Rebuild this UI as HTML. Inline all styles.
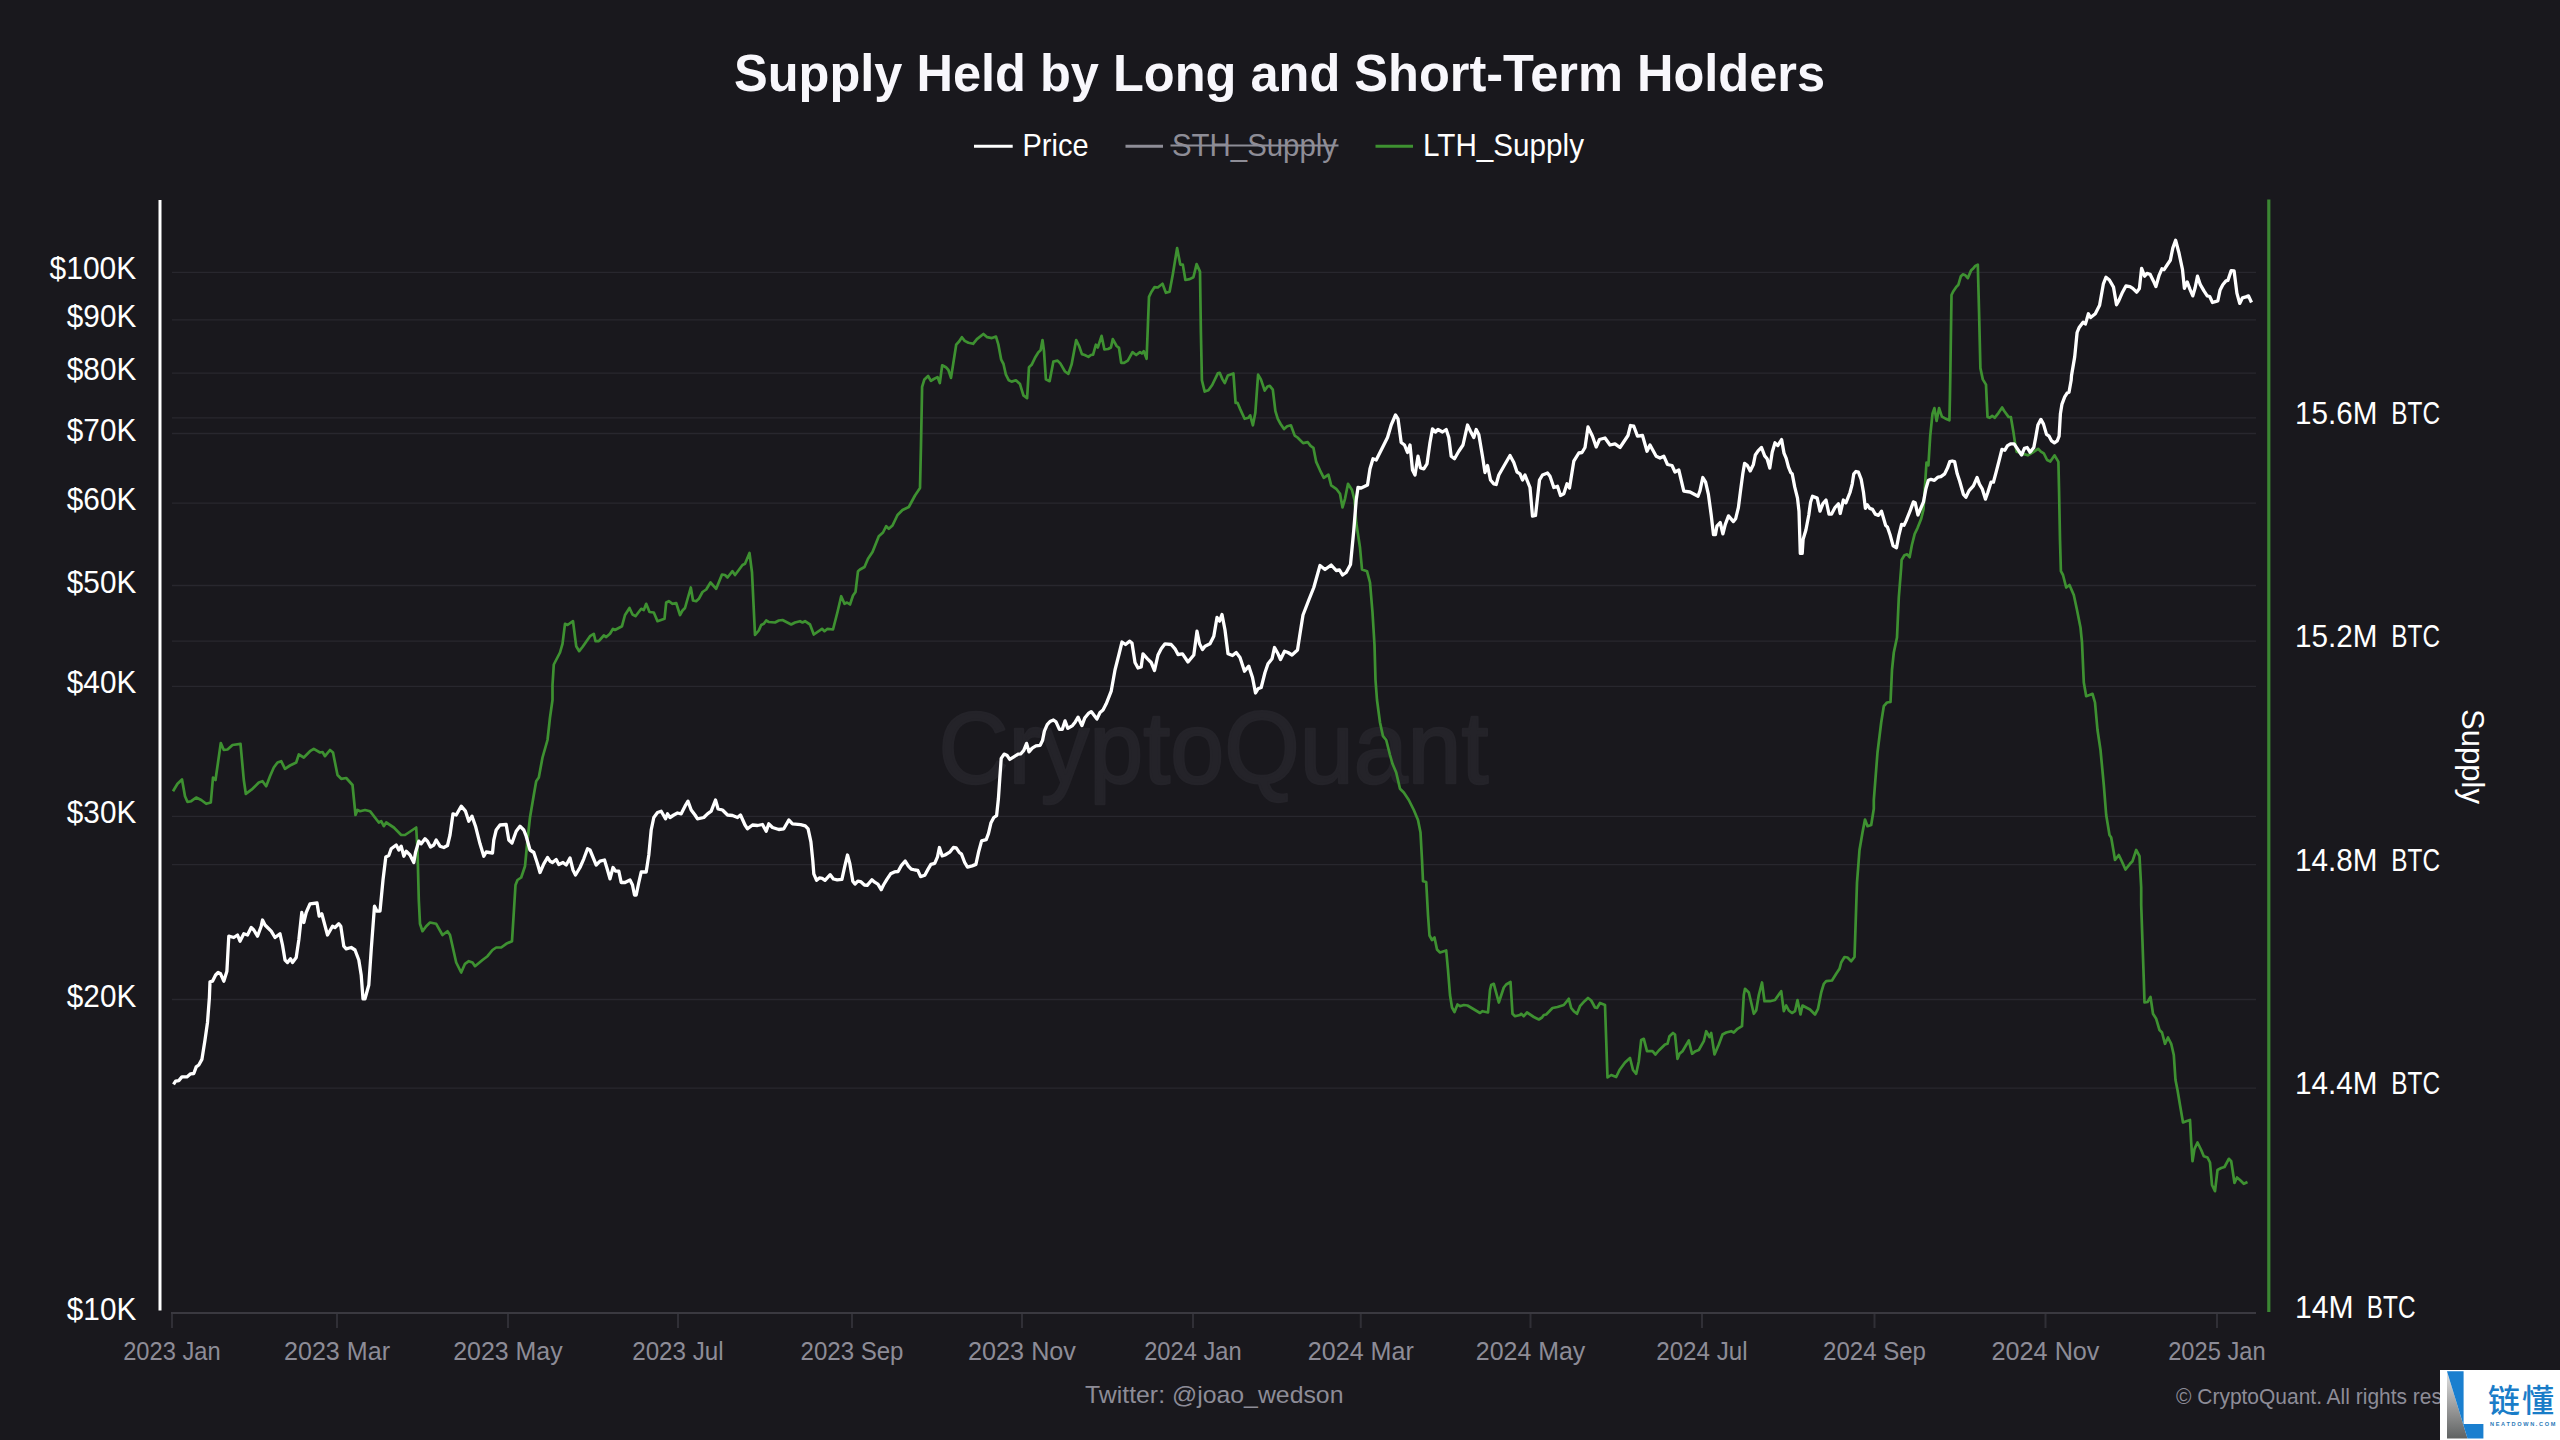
<!DOCTYPE html>
<html lang="en"><head><meta charset="utf-8"><title>Supply Held by Long and Short-Term Holders</title>
<style>html,body{margin:0;padding:0;background:#19181d;}body{width:2560px;height:1440px;overflow:hidden;}svg{display:block;}text{font-family:"Liberation Sans","Noto Sans CJK SC",sans-serif;}</style>
</head><body>
<svg width="2560" height="1440" viewBox="0 0 2560 1440">
<rect width="2560" height="1440" fill="#19181d"/>
<text x="1213.5" y="782.5" font-size="102" font-weight="normal" fill="#242329" stroke="#242329" stroke-width="2.5" stroke-linejoin="round" text-anchor="middle" textLength="550" lengthAdjust="spacingAndGlyphs">CryptoQuant</text>
<g stroke="#28272e" stroke-width="1.3">
<line x1="172" x2="2256" y1="272.3" y2="272.3"/>
<line x1="172" x2="2256" y1="319.9" y2="319.9"/>
<line x1="172" x2="2256" y1="373.1" y2="373.1"/>
<line x1="172" x2="2256" y1="433.5" y2="433.5"/>
<line x1="172" x2="2256" y1="503.1" y2="503.1"/>
<line x1="172" x2="2256" y1="585.5" y2="585.5"/>
<line x1="172" x2="2256" y1="686.3" y2="686.3"/>
<line x1="172" x2="2256" y1="816.3" y2="816.3"/>
<line x1="172" x2="2256" y1="999.5" y2="999.5"/>
<line x1="172" x2="2256" y1="417.8" y2="417.8"/>
<line x1="172" x2="2256" y1="641.1" y2="641.1"/>
<line x1="172" x2="2256" y1="864.6" y2="864.6"/>
<line x1="172" x2="2256" y1="1088.2" y2="1088.2"/>
</g>
<g stroke="#302f36" stroke-width="2">
<line x1="172" x2="172" y1="1313" y2="1328"/>
<line x1="337" x2="337" y1="1313" y2="1328"/>
<line x1="508" x2="508" y1="1313" y2="1328"/>
<line x1="678" x2="678" y1="1313" y2="1328"/>
<line x1="852" x2="852" y1="1313" y2="1328"/>
<line x1="1022" x2="1022" y1="1313" y2="1328"/>
<line x1="1193" x2="1193" y1="1313" y2="1328"/>
<line x1="1360.75" x2="1360.75" y1="1313" y2="1328"/>
<line x1="1530.5" x2="1530.5" y1="1313" y2="1328"/>
<line x1="1702" x2="1702" y1="1313" y2="1328"/>
<line x1="1874.5" x2="1874.5" y1="1313" y2="1328"/>
<line x1="2045.5" x2="2045.5" y1="1313" y2="1328"/>
<line x1="2217" x2="2217" y1="1313" y2="1328"/>
</g>
<line x1="171" x2="2256" y1="1313" y2="1313" stroke="#3a3940" stroke-width="2"/>
<line x1="160" x2="160" y1="200" y2="1310.5" stroke="#ffffff" stroke-width="3"/>
<line x1="2268.8" x2="2268.8" y1="199.5" y2="1312" stroke="#3b8633" stroke-width="3.2"/>
<path d="M173.0,791.2 L177.5,783.8 L182.0,779.5 L185.0,796.2 L187.5,802.0 L191.2,801.2 L196.2,797.5 L201.2,800.0 L206.2,803.8 L210.8,802.5 L213.0,777.5 L215.5,780.0 L220.8,743.0 L223.8,750.0 L227.5,749.5 L232.5,745.0 L240.5,743.8 L243.8,780.0 L245.8,793.8 L252.5,788.8 L258.8,782.5 L262.5,781.2 L266.2,786.2 L270.0,776.2 L273.8,767.5 L277.5,762.5 L281.2,761.2 L285.0,768.8 L290.0,765.5 L296.2,762.5 L298.8,754.5 L303.8,757.5 L310.0,751.2 L313.8,748.8 L320.0,752.5 L322.5,752.0 L325.0,756.2 L330.0,750.0 L333.0,752.5 L337.5,775.0 L341.2,778.8 L346.2,778.0 L352.5,785.0 L355.5,815.0 L357.5,810.0 L360.0,811.2 L365.0,810.0 L370.0,811.2 L378.8,822.5 L381.2,821.2 L383.8,826.2 L386.2,822.5 L393.8,827.5 L401.2,835.0 L405.0,835.0 L416.2,827.5 L417.5,850.0 L418.8,900.0 L420.0,923.8 L422.5,931.2 L426.2,926.2 L430.0,922.5 L436.2,923.8 L442.5,935.0 L447.5,931.2 L450.0,935.0 L456.2,962.5 L461.2,972.5 L465.0,963.8 L468.8,961.2 L472.5,962.5 L475.0,966.2 L482.5,960.0 L487.5,956.2 L492.5,950.0 L496.2,947.5 L501.2,947.5 L506.2,943.8 L512.0,941.2 L513.8,912.5 L515.5,885.0 L517.5,880.0 L521.2,877.5 L525.0,866.2 L527.5,840.0 L530.0,817.5 L533.8,795.0 L536.2,781.2 L538.8,777.5 L542.5,757.5 L547.5,740.0 L550.0,717.5 L552.5,700.0 L552.5,685.0 L553.8,664.5 L560.0,652.5 L562.5,643.8 L565.0,623.8 L567.5,625.0 L573.0,621.2 L576.2,646.2 L579.2,651.2 L582.5,647.0 L590.0,636.2 L593.8,633.8 L595.5,641.2 L598.8,641.2 L603.8,635.5 L606.2,637.0 L610.0,633.8 L613.0,628.8 L615.0,630.0 L622.0,626.2 L625.0,615.0 L629.5,608.0 L632.5,614.5 L635.5,616.2 L641.2,608.8 L643.8,610.0 L646.2,603.8 L649.5,612.0 L653.8,612.5 L657.5,621.2 L664.5,618.8 L666.2,602.5 L668.8,601.2 L672.5,603.8 L676.2,603.0 L680.0,615.0 L682.5,610.5 L685.0,608.0 L690.8,587.5 L693.0,600.5 L696.2,601.2 L698.8,598.8 L702.5,592.0 L706.2,589.5 L710.5,582.5 L716.2,588.8 L722.0,574.5 L725.0,575.0 L727.5,577.5 L732.5,571.2 L735.0,575.0 L738.8,570.0 L742.5,565.0 L745.0,563.8 L749.5,553.0 L752.0,572.5 L755.0,635.0 L758.8,630.5 L761.2,625.0 L763.8,623.8 L766.2,620.5 L768.8,622.0 L775.0,622.5 L778.8,620.5 L782.5,620.0 L791.2,624.5 L795.0,622.5 L800.0,621.2 L802.5,622.5 L805.0,621.2 L810.0,624.5 L813.8,634.5 L822.0,628.8 L824.5,631.2 L827.5,628.8 L833.0,629.5 L837.5,612.0 L841.2,596.2 L844.5,603.8 L847.0,602.5 L850.0,604.5 L853.0,595.5 L855.5,592.0 L858.0,571.2 L860.0,569.5 L864.5,567.0 L868.0,558.8 L872.5,552.0 L878.8,536.2 L883.0,532.5 L886.2,526.2 L888.8,528.8 L892.5,525.5 L897.5,515.0 L902.5,510.0 L908.8,507.0 L915.0,495.5 L920.0,488.0 L921.0,445.0 L922.1,386.9 L924.4,379.4 L928.1,376.0 L930.9,380.9 L933.8,379.0 L937.5,377.1 L939.8,383.1 L942.2,365.3 L945.9,367.2 L948.4,370.0 L951.0,377.9 L956.2,344.7 L959.1,341.5 L961.9,337.2 L964.7,340.9 L968.4,342.8 L973.1,343.8 L976.9,339.1 L983.4,334.0 L987.2,337.2 L991.9,338.1 L996.0,336.6 L998.4,344.7 L1001.2,359.7 L1003.5,364.0 L1005.9,374.7 L1008.8,380.3 L1011.6,381.6 L1015.9,380.3 L1020.0,384.1 L1023.4,395.3 L1027.1,398.1 L1029.0,367.2 L1031.6,364.8 L1035.0,357.8 L1038.4,352.2 L1040.6,350.3 L1042.5,340.0 L1044.0,351.2 L1045.9,379.4 L1049.6,381.2 L1053.4,361.6 L1057.5,360.6 L1060.3,363.4 L1065.0,371.5 L1068.4,373.8 L1071.6,364.4 L1076.2,340.0 L1079.1,346.0 L1081.9,354.1 L1084.7,355.0 L1088.4,356.9 L1090.9,355.0 L1093.1,354.6 L1095.9,344.7 L1097.8,347.5 L1101.6,335.9 L1104.4,349.4 L1108.1,349.0 L1110.9,347.5 L1112.8,339.1 L1116.6,346.0 L1119.0,347.9 L1121.2,362.9 L1124.1,362.9 L1127.8,360.6 L1132.5,352.2 L1136.2,355.0 L1140.0,352.2 L1141.9,353.5 L1143.8,351.2 L1146.6,358.8 L1147.9,325.0 L1149.0,296.9 L1151.2,292.2 L1154.6,287.1 L1157.8,287.5 L1162.5,283.8 L1165.9,292.8 L1169.6,291.6 L1172.8,274.4 L1177.1,248.1 L1180.3,264.6 L1182.8,264.6 L1185.4,280.0 L1189.7,279.1 L1193.4,277.2 L1196.6,264.1 L1200.0,271.6 L1200.9,332.5 L1201.9,380.3 L1204.7,391.6 L1208.4,390.2 L1212.2,385.0 L1217.8,373.4 L1219.7,372.8 L1222.5,379.4 L1224.8,383.1 L1227.8,375.6 L1233.4,373.4 L1235.6,402.8 L1237.5,402.8 L1240.3,409.4 L1244.6,418.8 L1248.4,417.8 L1250.2,415.4 L1252.9,425.3 L1255.3,413.1 L1258.1,374.7 L1260.9,379.4 L1264.7,390.6 L1267.5,386.5 L1269.8,385.9 L1272.8,389.7 L1275.4,411.2 L1277.8,418.8 L1280.6,424.0 L1284.0,429.1 L1287.2,426.2 L1290.9,425.3 L1294.7,435.6 L1297.5,437.5 L1303.1,443.1 L1307.8,442.2 L1310.6,445.9 L1313.4,447.8 L1316.2,461.9 L1320.0,470.3 L1323.8,477.8 L1328.4,474.6 L1331.2,485.3 L1336.2,488.8 L1340.0,493.8 L1342.5,507.5 L1345.0,498.8 L1348.0,483.8 L1352.0,490.0 L1354.5,500.0 L1356.2,522.5 L1360.0,547.5 L1362.0,569.5 L1367.0,571.2 L1370.0,582.5 L1372.5,612.5 L1374.5,645.0 L1375.5,680.0 L1377.0,700.0 L1380.0,722.5 L1383.0,736.2 L1386.2,740.0 L1390.0,755.0 L1392.5,763.8 L1396.2,772.5 L1400.0,788.8 L1403.8,792.5 L1408.8,800.0 L1413.8,810.0 L1418.0,820.0 L1420.5,832.5 L1422.0,860.0 L1423.0,881.2 L1426.2,882.0 L1428.0,915.0 L1429.5,935.5 L1432.0,940.0 L1434.5,937.5 L1437.0,949.5 L1440.0,952.5 L1446.2,950.5 L1448.0,970.0 L1450.0,995.0 L1452.0,1007.5 L1454.5,1012.0 L1457.5,1004.5 L1460.0,1006.2 L1463.8,1005.0 L1467.5,1005.5 L1475.0,1010.0 L1480.0,1013.0 L1482.5,1011.2 L1488.0,1012.5 L1490.0,990.0 L1491.2,985.0 L1493.8,983.8 L1498.8,1002.5 L1503.8,987.5 L1506.2,984.5 L1510.5,982.0 L1512.5,1013.8 L1515.0,1016.2 L1520.0,1015.0 L1521.2,1013.8 L1523.8,1016.2 L1527.0,1012.5 L1533.8,1017.0 L1538.8,1019.5 L1542.0,1017.5 L1543.8,1015.0 L1546.2,1014.5 L1552.5,1008.0 L1557.5,1007.0 L1563.8,1005.0 L1568.8,998.8 L1571.2,1008.0 L1573.8,1011.2 L1577.0,1013.8 L1580.0,1006.2 L1584.5,1001.2 L1588.0,998.0 L1591.2,1000.5 L1595.0,1007.5 L1597.0,1008.0 L1600.0,1003.0 L1605.0,1005.0 L1606.2,1040.0 L1607.5,1077.5 L1611.2,1075.0 L1616.2,1077.0 L1619.5,1070.0 L1625.0,1062.5 L1630.0,1058.0 L1633.0,1070.0 L1636.2,1073.8 L1638.8,1061.2 L1641.2,1040.0 L1643.8,1038.8 L1647.0,1051.2 L1652.5,1051.2 L1655.5,1054.5 L1658.8,1050.5 L1665.0,1044.5 L1667.5,1043.8 L1669.5,1036.2 L1673.0,1033.0 L1675.0,1034.5 L1677.5,1058.8 L1679.5,1053.8 L1682.5,1051.2 L1688.8,1040.5 L1692.0,1053.8 L1695.5,1051.2 L1698.8,1050.0 L1703.8,1041.2 L1706.2,1031.2 L1709.5,1037.0 L1711.2,1033.0 L1714.5,1054.5 L1718.8,1044.5 L1722.5,1034.5 L1726.2,1032.5 L1731.2,1031.2 L1733.8,1032.5 L1737.5,1028.8 L1742.0,1026.2 L1743.8,995.0 L1745.0,988.8 L1748.8,992.5 L1753.8,1013.8 L1756.2,1010.5 L1758.8,995.0 L1762.0,982.5 L1764.5,1001.2 L1770.0,1001.2 L1775.0,1000.0 L1781.2,991.2 L1783.8,1011.2 L1786.2,1005.5 L1788.8,1010.5 L1792.0,1013.0 L1795.0,1011.2 L1797.5,1000.0 L1800.5,1014.5 L1802.5,1005.5 L1806.2,1007.5 L1810.0,1009.5 L1815.0,1014.5 L1818.0,1008.8 L1821.2,992.5 L1823.8,983.8 L1826.2,981.2 L1832.0,980.5 L1836.2,973.8 L1839.5,968.8 L1841.2,962.5 L1844.5,957.0 L1847.5,957.5 L1851.2,961.2 L1854.5,957.0 L1855.5,927.5 L1857.0,882.5 L1859.5,850.0 L1862.5,832.5 L1865.0,819.5 L1867.5,826.2 L1871.2,825.0 L1873.8,808.8 L1873.8,800.0 L1877.5,752.5 L1881.2,722.5 L1883.8,706.2 L1887.0,702.5 L1890.5,702.0 L1892.0,670.0 L1893.8,652.5 L1897.0,637.5 L1898.8,597.5 L1901.2,567.5 L1901.6,560.0 L1904.4,555.3 L1907.2,554.4 L1909.6,557.2 L1911.9,545.0 L1914.7,533.8 L1917.5,528.1 L1921.2,518.8 L1923.5,509.4 L1925.0,485.0 L1926.5,462.5 L1928.4,465.3 L1930.2,436.2 L1932.5,413.8 L1934.4,408.1 L1936.6,420.9 L1939.1,408.1 L1941.9,416.6 L1945.2,418.4 L1949.4,420.3 L1949.9,398.8 L1950.4,370.0 L1951.5,295.0 L1953.4,291.2 L1956.6,286.6 L1958.4,284.7 L1960.9,276.2 L1962.8,274.4 L1965.4,275.3 L1967.8,278.1 L1971.0,270.6 L1972.9,268.8 L1975.3,265.9 L1977.8,264.6 L1979.1,313.8 L1980.4,368.1 L1982.8,379.4 L1986.0,384.6 L1987.5,416.9 L1989.8,417.8 L1992.2,415.9 L1994.6,417.8 L1998.4,413.1 L2002.1,407.5 L2004.4,411.2 L2008.5,416.9 L2010.9,417.2 L2013.4,431.9 L2015.2,444.1 L2016.6,451.6 L2019.4,452.5 L2022.2,454.0 L2025.0,454.4 L2027.8,455.3 L2032.5,452.5 L2038.1,448.8 L2040.9,451.6 L2043.8,453.4 L2047.1,460.0 L2050.3,461.5 L2054.6,455.3 L2058.4,461.9 L2059.1,492.5 L2060.0,539.4 L2060.9,571.2 L2063.0,575.0 L2066.2,587.5 L2069.5,585.0 L2073.8,595.0 L2077.0,610.0 L2080.5,627.5 L2082.0,642.5 L2083.8,682.5 L2086.2,696.2 L2089.5,695.0 L2092.5,693.8 L2095.0,702.5 L2097.5,730.0 L2100.5,750.0 L2103.8,785.0 L2106.2,815.0 L2109.5,835.0 L2111.2,837.5 L2113.8,852.5 L2115.0,860.0 L2118.8,855.0 L2121.2,860.0 L2125.5,869.5 L2130.0,863.8 L2132.5,861.2 L2136.2,850.0 L2139.5,856.2 L2141.2,887.5 L2141.2,905.0 L2142.5,942.5 L2143.8,980.0 L2144.5,1002.5 L2147.5,1002.0 L2150.5,997.0 L2153.0,1013.8 L2156.2,1018.8 L2159.5,1030.0 L2162.0,1032.5 L2165.0,1043.8 L2168.0,1037.5 L2171.2,1043.8 L2173.8,1055.0 L2175.5,1080.0 L2177.5,1090.0 L2180.0,1105.0 L2183.0,1122.5 L2186.2,1121.2 L2190.0,1120.0 L2191.2,1142.5 L2192.5,1161.2 L2194.5,1148.8 L2197.5,1142.5 L2201.2,1150.0 L2203.8,1156.2 L2207.5,1157.5 L2210.0,1162.5 L2212.0,1185.0 L2215.0,1191.2 L2217.5,1170.0 L2221.2,1168.0 L2224.5,1167.0 L2228.8,1158.8 L2231.2,1161.2 L2234.5,1183.0 L2237.0,1177.5 L2240.0,1180.0 L2243.8,1183.8 L2247.5,1182.0" fill="none" stroke="#3e9131" stroke-width="2.7" stroke-linejoin="round"/>
<path d="M173.5,1084.4 L175.6,1081.2 L178.8,1080.6 L181.9,1076.9 L186.9,1076.9 L190.6,1073.8 L193.8,1073.5 L196.2,1066.9 L198.8,1065.0 L201.9,1059.4 L205.0,1040.0 L207.5,1022.5 L209.4,997.5 L210.0,981.9 L212.5,981.2 L215.6,975.0 L218.1,972.5 L220.6,973.8 L223.8,981.2 L226.9,971.2 L228.8,936.2 L233.8,937.5 L237.5,935.0 L240.0,941.2 L243.8,933.8 L247.5,935.0 L251.2,927.5 L253.8,930.0 L257.5,936.2 L261.2,926.2 L262.5,920.0 L265.0,925.0 L267.5,927.5 L271.2,931.2 L275.0,937.5 L280.0,933.8 L282.5,945.0 L285.0,960.0 L287.5,962.5 L290.5,958.8 L292.5,962.5 L296.2,957.5 L298.8,940.0 L301.8,912.5 L303.8,922.5 L306.2,912.5 L310.0,903.8 L317.0,903.0 L319.2,916.2 L321.8,913.8 L327.5,935.0 L332.5,926.2 L335.0,927.5 L338.8,923.8 L340.8,926.2 L343.8,946.2 L346.2,948.8 L351.2,947.5 L355.0,950.0 L358.8,960.0 L361.2,975.0 L363.0,998.8 L365.0,998.8 L368.8,985.0 L371.2,950.0 L374.5,906.2 L377.0,911.2 L380.0,911.2 L383.0,880.0 L385.8,857.0 L388.8,855.5 L391.2,848.8 L396.2,845.0 L398.8,850.0 L401.2,846.2 L403.8,856.2 L406.2,851.2 L410.0,855.0 L413.8,862.5 L415.5,852.5 L418.8,841.2 L421.2,843.8 L425.0,838.8 L427.5,841.2 L430.5,847.0 L433.8,845.0 L436.2,840.0 L440.0,846.2 L443.8,847.5 L447.5,845.5 L450.0,835.0 L453.0,813.8 L456.2,815.0 L461.2,806.2 L465.5,811.2 L468.8,821.2 L472.0,816.2 L475.5,826.2 L480.0,843.8 L483.8,856.2 L486.2,852.0 L492.5,853.0 L493.8,840.0 L496.2,830.0 L500.0,825.0 L506.2,824.5 L508.8,840.0 L512.0,843.0 L516.2,831.2 L520.0,826.2 L523.8,830.0 L526.2,836.2 L530.0,850.0 L533.8,852.5 L537.5,863.8 L540.0,872.5 L543.8,863.8 L547.5,857.5 L550.0,861.2 L552.5,862.5 L556.2,859.5 L558.8,864.5 L563.0,862.5 L566.2,865.0 L570.0,858.0 L573.0,870.0 L575.5,875.0 L580.0,867.5 L583.8,858.8 L587.5,848.8 L590.0,850.0 L596.2,865.0 L600.0,861.2 L604.5,860.0 L607.5,870.0 L610.0,878.8 L613.0,867.5 L615.5,871.2 L618.8,871.2 L621.2,882.5 L625.0,882.5 L630.0,880.0 L632.5,885.0 L634.5,895.0 L636.2,895.0 L638.8,882.5 L641.2,872.0 L646.2,872.0 L648.8,855.0 L651.2,830.0 L653.8,817.5 L657.5,812.5 L661.2,811.2 L665.5,818.8 L667.5,813.8 L670.0,817.5 L673.8,815.0 L677.5,813.0 L681.2,813.8 L685.0,806.2 L688.0,801.2 L691.2,810.0 L695.0,815.0 L697.5,818.8 L703.8,817.5 L707.5,813.8 L711.2,811.2 L715.5,800.0 L718.0,808.8 L722.5,810.0 L727.5,815.0 L732.5,815.5 L737.5,817.5 L740.5,815.0 L745.0,825.0 L747.5,828.8 L752.5,825.0 L757.5,825.5 L762.5,824.5 L766.2,831.2 L768.8,823.8 L772.5,827.5 L778.8,829.5 L783.8,828.8 L788.8,820.0 L792.5,823.8 L800.6,824.6 L805.3,825.9 L808.1,828.8 L810.9,841.9 L812.8,860.6 L813.8,873.8 L816.6,880.3 L819.4,877.9 L822.2,878.4 L825.0,880.3 L830.2,874.7 L833.4,879.0 L837.2,879.8 L841.9,879.4 L844.7,866.6 L847.5,855.0 L849.8,863.4 L852.8,881.2 L855.0,884.1 L857.8,881.2 L860.6,881.6 L864.4,885.0 L867.2,885.4 L871.9,879.8 L874.7,882.2 L877.9,884.1 L881.2,889.7 L883.5,885.0 L886.9,879.4 L890.6,873.8 L894.4,871.9 L898.1,871.5 L901.5,865.3 L905.2,861.0 L908.4,866.2 L911.2,869.1 L915.0,870.0 L917.8,870.4 L920.6,876.6 L924.8,875.2 L928.1,869.1 L930.9,864.4 L934.7,863.4 L937.5,856.9 L939.4,847.5 L942.2,855.9 L945.0,855.0 L949.7,852.2 L953.4,847.5 L956.2,847.9 L959.1,852.2 L961.5,854.1 L964.7,862.5 L967.5,867.2 L972.2,865.9 L975.9,864.4 L978.8,851.2 L981.6,840.9 L986.2,839.6 L988.5,833.4 L990.9,823.1 L993.8,817.5 L996.6,815.6 L998.4,798.8 L999.8,778.1 L1001.2,758.4 L1004.1,754.1 L1006.9,755.2 L1009.7,759.4 L1013.4,757.1 L1018.1,754.1 L1020.9,753.8 L1023.8,750.4 L1026.6,743.4 L1029.0,751.9 L1032.2,748.1 L1035.9,745.9 L1040.2,745.3 L1042.5,740.6 L1044.4,731.2 L1047.2,724.7 L1050.0,721.5 L1053.4,720.0 L1056.0,721.9 L1059.4,729.4 L1062.2,729.4 L1065.0,720.9 L1067.8,728.4 L1072.5,725.6 L1075.3,721.9 L1078.1,717.2 L1081.9,725.6 L1084.7,718.1 L1088.4,713.4 L1091.2,711.6 L1096.9,719.1 L1100.0,712.5 L1103.0,710.0 L1106.2,703.8 L1111.2,691.2 L1115.0,670.0 L1118.8,655.0 L1122.0,642.0 L1125.5,644.5 L1129.5,641.2 L1132.0,643.0 L1135.0,662.5 L1138.0,668.0 L1141.2,667.0 L1143.0,653.8 L1147.5,658.8 L1151.2,662.5 L1154.5,670.5 L1158.0,655.0 L1161.2,648.8 L1165.0,643.8 L1171.2,644.5 L1175.0,648.8 L1178.0,654.5 L1182.5,653.8 L1188.0,662.0 L1193.8,655.0 L1197.0,631.2 L1199.5,643.8 L1202.5,649.5 L1205.0,646.2 L1210.0,643.8 L1213.8,636.2 L1217.0,617.5 L1219.5,621.2 L1222.0,614.5 L1225.0,630.0 L1228.0,653.8 L1232.5,655.5 L1236.2,652.5 L1240.0,657.5 L1244.5,671.2 L1248.8,666.2 L1252.5,677.5 L1255.5,693.0 L1258.0,688.8 L1261.2,687.5 L1265.0,672.5 L1268.0,663.8 L1272.0,658.8 L1274.5,647.5 L1278.0,653.8 L1280.5,659.5 L1284.5,651.2 L1288.0,652.5 L1292.0,655.0 L1297.5,650.0 L1300.0,633.8 L1303.0,615.0 L1308.8,600.0 L1313.8,587.5 L1320.0,565.5 L1325.0,569.5 L1331.2,565.0 L1336.2,570.5 L1339.5,570.0 L1342.5,575.0 L1346.2,572.5 L1350.5,564.5 L1353.8,530.0 L1356.2,500.0 L1358.0,487.5 L1361.2,488.0 L1367.5,485.0 L1370.0,468.8 L1373.0,458.8 L1376.2,460.0 L1382.5,447.5 L1387.5,437.5 L1391.2,425.0 L1395.5,415.0 L1398.0,418.8 L1401.2,442.5 L1404.5,445.0 L1407.5,452.5 L1410.0,445.0 L1412.5,470.0 L1415.0,475.0 L1418.0,456.2 L1420.5,468.0 L1423.8,468.8 L1427.0,463.8 L1430.0,442.5 L1432.5,428.8 L1435.5,432.0 L1438.0,429.5 L1442.5,432.0 L1446.2,429.5 L1448.8,437.5 L1451.2,456.2 L1454.5,458.8 L1458.8,451.2 L1463.0,445.0 L1467.5,425.0 L1470.5,431.2 L1473.8,437.5 L1476.2,429.5 L1478.8,434.5 L1482.5,456.2 L1485.0,472.5 L1487.5,465.5 L1490.5,480.0 L1493.8,483.8 L1496.2,484.5 L1498.8,475.0 L1503.8,466.2 L1510.0,455.5 L1513.8,462.5 L1517.0,472.0 L1520.0,473.8 L1522.5,480.0 L1525.0,475.0 L1530.0,487.5 L1532.5,516.2 L1535.5,515.5 L1539.5,480.0 L1542.5,475.0 L1547.5,473.0 L1550.0,476.2 L1553.8,487.5 L1557.5,486.2 L1560.5,495.5 L1563.8,493.8 L1567.0,483.8 L1569.5,488.0 L1573.8,461.2 L1578.8,453.0 L1582.0,452.5 L1585.0,447.5 L1588.0,427.0 L1592.5,436.2 L1596.2,447.0 L1599.5,439.5 L1605.0,438.0 L1610.0,445.0 L1615.0,443.8 L1620.0,447.5 L1625.0,440.0 L1628.0,435.5 L1630.5,425.5 L1633.8,426.2 L1637.5,436.2 L1642.5,435.5 L1647.0,451.2 L1650.0,445.0 L1656.2,456.2 L1660.0,458.0 L1663.8,456.2 L1667.5,464.5 L1672.0,465.5 L1675.0,472.0 L1678.8,470.0 L1683.8,491.2 L1690.0,492.0 L1698.0,496.2 L1700.0,490.6 L1702.8,477.5 L1705.6,482.2 L1708.4,494.4 L1711.2,515.0 L1713.5,534.7 L1715.4,534.7 L1716.9,526.2 L1720.2,522.5 L1722.9,533.8 L1725.3,524.4 L1728.5,515.9 L1733.4,521.6 L1735.6,518.8 L1738.4,507.5 L1740.3,492.5 L1742.8,473.8 L1744.6,463.4 L1747.2,465.3 L1750.2,470.9 L1753.4,464.4 L1755.3,455.0 L1758.1,450.9 L1761.5,447.5 L1764.7,455.9 L1767.1,458.8 L1769.8,468.1 L1772.2,452.2 L1775.0,442.8 L1777.8,445.6 L1781.6,439.6 L1784.0,453.1 L1786.2,458.4 L1788.5,467.2 L1790.9,472.8 L1792.2,473.8 L1794.7,486.9 L1797.5,498.1 L1799.0,511.2 L1800.3,553.4 L1802.2,553.4 L1803.1,539.4 L1805.9,530.0 L1808.8,515.0 L1810.6,501.9 L1812.5,496.2 L1817.2,498.1 L1820.0,511.2 L1822.8,503.8 L1826.0,500.0 L1829.0,514.1 L1831.6,514.1 L1835.0,507.5 L1838.4,503.8 L1840.2,513.5 L1843.4,500.0 L1845.9,502.8 L1850.0,492.5 L1852.2,484.1 L1853.8,473.8 L1856.0,471.5 L1858.4,472.2 L1861.2,479.4 L1863.5,492.5 L1865.4,508.4 L1867.2,504.7 L1869.7,508.4 L1872.5,509.4 L1875.3,514.1 L1878.5,515.4 L1881.5,511.2 L1883.4,517.8 L1885.6,525.3 L1887.5,527.2 L1890.3,535.6 L1893.1,545.9 L1896.5,547.8 L1898.8,535.6 L1901.6,524.4 L1904.0,525.3 L1906.2,520.6 L1910.0,511.2 L1913.4,501.9 L1915.2,502.8 L1917.9,515.0 L1920.3,509.4 L1923.5,501.9 L1925.9,488.8 L1928.4,480.3 L1931.0,479.4 L1934.4,480.3 L1938.1,477.1 L1940.9,476.6 L1944.7,473.8 L1947.5,468.1 L1949.8,461.6 L1952.2,461.0 L1954.6,461.6 L1957.2,473.8 L1959.7,481.2 L1963.4,494.4 L1965.9,497.2 L1969.1,490.6 L1973.4,485.9 L1977.1,477.5 L1979.4,484.1 L1982.2,488.8 L1985.4,499.1 L1987.8,492.5 L1991.0,482.2 L1993.4,482.2 L1996.2,471.9 L1999.1,460.6 L2001.9,449.4 L2004.7,450.3 L2007.5,445.6 L2010.9,443.8 L2014.1,443.8 L2017.8,449.4 L2021.6,455.0 L2024.4,448.4 L2027.2,447.5 L2030.0,452.2 L2033.8,447.5 L2035.6,438.1 L2037.9,425.0 L2040.9,419.4 L2043.5,424.1 L2046.5,434.4 L2049.1,436.2 L2051.6,440.9 L2054.4,442.8 L2057.2,440.9 L2059.1,436.2 L2060.4,413.8 L2061.9,404.4 L2064.7,396.9 L2067.1,393.1 L2069.0,392.2 L2071.2,380.0 L2071.5,375.6 L2074.7,356.9 L2077.1,332.5 L2079.0,327.8 L2083.1,322.2 L2085.4,324.1 L2088.4,313.8 L2090.6,317.5 L2095.3,313.8 L2099.6,305.3 L2103.4,283.8 L2106.0,277.2 L2109.4,280.0 L2113.5,287.1 L2116.5,304.8 L2118.8,300.6 L2122.5,292.2 L2125.9,286.0 L2130.0,286.6 L2132.8,288.4 L2136.6,292.2 L2139.4,288.4 L2141.6,268.4 L2144.6,276.2 L2146.9,273.4 L2150.2,274.4 L2153.4,280.9 L2155.9,286.6 L2159.1,275.3 L2161.9,268.8 L2164.1,269.7 L2167.1,265.0 L2170.3,260.3 L2172.8,248.1 L2175.6,240.2 L2178.8,252.2 L2182.5,269.7 L2184.4,288.4 L2187.2,281.9 L2190.0,289.4 L2192.8,295.9 L2195.2,287.5 L2197.5,276.2 L2200.3,284.7 L2204.1,291.2 L2207.2,295.9 L2209.7,296.5 L2212.5,302.5 L2215.3,301.6 L2217.8,301.0 L2220.0,290.3 L2222.8,284.7 L2226.0,280.9 L2227.9,280.4 L2231.2,270.6 L2234.1,271.0 L2236.9,293.1 L2239.7,303.4 L2242.5,297.8 L2245.9,296.9 L2248.5,295.9 L2251.5,302.5" fill="none" stroke="#ffffff" stroke-width="3.3" stroke-linejoin="round"/>
<text id="title" x="734" y="91" font-size="52" font-weight="bold" fill="#f8f7fc" textLength="1091" lengthAdjust="spacingAndGlyphs">Supply Held by Long and Short-Term Holders</text>
<line x1="974" x2="1012.7" y1="146.2" y2="146.2" stroke="#ffffff" stroke-width="3"/>
<text id="lg1" x="1022.5" y="155.6" font-size="32" fill="#ffffff" textLength="66" lengthAdjust="spacingAndGlyphs">Price</text>
<line x1="1125.5" x2="1163" y1="146.2" y2="146.2" stroke="#8e8d97" stroke-width="3"/>
<text id="lg2" x="1172" y="155.6" font-size="32" fill="#8e8d97" textLength="165" lengthAdjust="spacingAndGlyphs">STH_Supply</text>
<line x1="1170.5" x2="1338.5" y1="145.5" y2="145.5" stroke="#8e8d97" stroke-width="2"/>
<line x1="1375.5" x2="1413" y1="146.2" y2="146.2" stroke="#3e9131" stroke-width="3"/>
<text id="lg3" x="1423" y="155.6" font-size="32" fill="#ffffff" textLength="161" lengthAdjust="spacingAndGlyphs">LTH_Supply</text>
<text class="ll" x="49.6" y="279.4" font-size="32" fill="#ffffff" textLength="86.7" lengthAdjust="spacingAndGlyphs">$100K</text>
<text class="ll" x="66.8" y="327.0" font-size="32" fill="#ffffff" textLength="69.5" lengthAdjust="spacingAndGlyphs">$90K</text>
<text class="ll" x="66.8" y="380.2" font-size="32" fill="#ffffff" textLength="69.5" lengthAdjust="spacingAndGlyphs">$80K</text>
<text class="ll" x="66.8" y="440.6" font-size="32" fill="#ffffff" textLength="69.5" lengthAdjust="spacingAndGlyphs">$70K</text>
<text class="ll" x="66.8" y="510.2" font-size="32" fill="#ffffff" textLength="69.5" lengthAdjust="spacingAndGlyphs">$60K</text>
<text class="ll" x="66.8" y="592.6" font-size="32" fill="#ffffff" textLength="69.5" lengthAdjust="spacingAndGlyphs">$50K</text>
<text class="ll" x="66.8" y="693.4" font-size="32" fill="#ffffff" textLength="69.5" lengthAdjust="spacingAndGlyphs">$40K</text>
<text class="ll" x="66.8" y="823.4" font-size="32" fill="#ffffff" textLength="69.5" lengthAdjust="spacingAndGlyphs">$30K</text>
<text class="ll" x="66.8" y="1006.6" font-size="32" fill="#ffffff" textLength="69.5" lengthAdjust="spacingAndGlyphs">$20K</text>
<text class="ll" x="66.8" y="1319.8" font-size="32" fill="#ffffff" textLength="69.5" lengthAdjust="spacingAndGlyphs">$10K</text>
<text class="rl" y="423.8" font-size="31.5" fill="#ffffff"><tspan x="2295" textLength="82.5" lengthAdjust="spacingAndGlyphs">15.6M</tspan> <tspan x="2391.25" textLength="48.75" lengthAdjust="spacingAndGlyphs">BTC</tspan></text>
<text class="rl" y="647.1" font-size="31.5" fill="#ffffff"><tspan x="2295" textLength="82.5" lengthAdjust="spacingAndGlyphs">15.2M</tspan> <tspan x="2391.25" textLength="48.75" lengthAdjust="spacingAndGlyphs">BTC</tspan></text>
<text class="rl" y="870.6" font-size="31.5" fill="#ffffff"><tspan x="2295" textLength="82.5" lengthAdjust="spacingAndGlyphs">14.8M</tspan> <tspan x="2391.25" textLength="48.75" lengthAdjust="spacingAndGlyphs">BTC</tspan></text>
<text class="rl" y="1094.2" font-size="31.5" fill="#ffffff"><tspan x="2295" textLength="82.5" lengthAdjust="spacingAndGlyphs">14.4M</tspan> <tspan x="2391.25" textLength="48.75" lengthAdjust="spacingAndGlyphs">BTC</tspan></text>
<text class="rl" y="1317.7" font-size="31.5" fill="#ffffff"><tspan x="2295" textLength="58.5" lengthAdjust="spacingAndGlyphs">14M</tspan> <tspan x="2366.8" textLength="48.75" lengthAdjust="spacingAndGlyphs">BTC</tspan></text>
<text id="sup" transform="translate(2461.7,709) rotate(90)" font-size="32" fill="#ffffff" textLength="95" lengthAdjust="spacingAndGlyphs">Supply</text>
<text class="xl" x="123.2" y="1360" font-size="25.5" fill="#8d8c97" textLength="97.5" lengthAdjust="spacingAndGlyphs">2023 Jan</text>
<text class="xl" x="284.0" y="1360" font-size="25.5" fill="#8d8c97" textLength="106" lengthAdjust="spacingAndGlyphs">2023 Mar</text>
<text class="xl" x="453.2" y="1360" font-size="25.5" fill="#8d8c97" textLength="109.5" lengthAdjust="spacingAndGlyphs">2023 May</text>
<text class="xl" x="632.2" y="1360" font-size="25.5" fill="#8d8c97" textLength="91.5" lengthAdjust="spacingAndGlyphs">2023 Jul</text>
<text class="xl" x="800.5" y="1360" font-size="25.5" fill="#8d8c97" textLength="103" lengthAdjust="spacingAndGlyphs">2023 Sep</text>
<text class="xl" x="968.0" y="1360" font-size="25.5" fill="#8d8c97" textLength="108" lengthAdjust="spacingAndGlyphs">2023 Nov</text>
<text class="xl" x="1144.2" y="1360" font-size="25.5" fill="#8d8c97" textLength="97.5" lengthAdjust="spacingAndGlyphs">2024 Jan</text>
<text class="xl" x="1307.8" y="1360" font-size="25.5" fill="#8d8c97" textLength="106" lengthAdjust="spacingAndGlyphs">2024 Mar</text>
<text class="xl" x="1475.8" y="1360" font-size="25.5" fill="#8d8c97" textLength="109.5" lengthAdjust="spacingAndGlyphs">2024 May</text>
<text class="xl" x="1656.2" y="1360" font-size="25.5" fill="#8d8c97" textLength="91.5" lengthAdjust="spacingAndGlyphs">2024 Jul</text>
<text class="xl" x="1823.0" y="1360" font-size="25.5" fill="#8d8c97" textLength="103" lengthAdjust="spacingAndGlyphs">2024 Sep</text>
<text class="xl" x="1991.5" y="1360" font-size="25.5" fill="#8d8c97" textLength="108" lengthAdjust="spacingAndGlyphs">2024 Nov</text>
<text class="xl" x="2168.2" y="1360" font-size="25.5" fill="#8d8c97" textLength="97.5" lengthAdjust="spacingAndGlyphs">2025 Jan</text>
<text id="tw" x="1085" y="1403" font-size="24.5" fill="#8d8c97" textLength="258.5" lengthAdjust="spacingAndGlyphs">Twitter: @joao_wedson</text>
<text id="cq" x="2176" y="1404.4" font-size="22.5" fill="#8d8c97" textLength="318.4" lengthAdjust="spacingAndGlyphs">© CryptoQuant. All rights reserved</text>
<defs><linearGradient id="gg" x1="0" y1="0" x2="0" y2="1"><stop offset="0" stop-color="#e4e4e4"/><stop offset="0.55" stop-color="#9a9a9a"/><stop offset="1" stop-color="#5f6262"/></linearGradient></defs>
<rect x="2440" y="1370" width="120" height="70" fill="#ffffff"/>
<polygon points="2447,1371.3 2467.5,1438.4 2447,1438.4" fill="url(#gg)"/>
<polygon points="2447,1371.3 2463.6,1371.3 2463.6,1424 2483.4,1424 2483.4,1438.4 2467.5,1438.4" fill="#1a7fcf"/>
<text id="cn" x="2488" y="1412" font-size="32" font-weight="500" fill="#1a7dc8" textLength="66" lengthAdjust="spacing" font-family="'Liberation Sans','Noto Sans CJK SC',sans-serif">链懂</text>
<text id="nd" x="2490" y="1426.2" font-size="5.6" font-weight="bold" fill="#2a79b8" textLength="65.5" lengthAdjust="spacing">NEATDOWN.COM</text>
</svg></body></html>
